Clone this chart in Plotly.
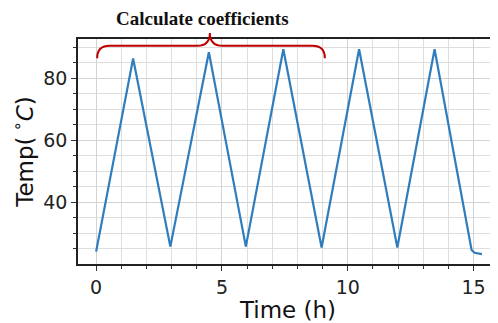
import plotly.graph_objects as go

# Data
time_h = [0.0, 1.47, 2.95, 4.48, 5.95, 7.44, 8.96, 10.45, 11.97, 13.45, 14.92, 15.04, 15.33]
temp_c = [24.1, 86.4, 25.7, 88.4, 25.7, 89.4, 25.4, 89.4, 25.4, 89.4, 24.6, 23.7, 23.3]

x_ticks = [0, 5, 10, 15]
y_ticks = [40, 60, 80]
x_range = [-0.72, 15.97]
y_range = [20.1, 92.7]

bracket_x = [0.04, 4.52, 9.09]   # left end, cusp, right end (hours)
annotation_text = "Calculate coefficients"

line_color = "#2f7dbd"
red = "#c00000"
font = "DejaVu Sans"

fig = go.Figure()
fig.add_trace(go.Scatter(x=time_h, y=temp_c, mode="lines",
                         line=dict(color=line_color, width=2.2), showlegend=False))

# Curly bracket (x in data, y in paper)
y_end, y_h, y_top = 0.915, 0.970, 1.027
x0, xc, x1 = bracket_x
r = 0.5
path = (f"M {x0},{y_end} Q {x0},{y_h} {x0+r},{y_h} "
        f"L {xc-r},{y_h} Q {xc},{y_h} {xc},{y_top} "
        f"Q {xc},{y_h} {xc+r},{y_h} "
        f"L {x1-r},{y_h} Q {x1},{y_h} {x1},{y_end}")
fig.add_shape(type="path", path=path, xref="x", yref="paper",
              line=dict(color=red, width=2))

fig.add_annotation(x=xc - 0.3, y=1.0, xref="x", yref="paper", yanchor="middle", yshift=21,
                   text=f"<b>{annotation_text}</b>", showarrow=False,
                   font=dict(family="Liberation Serif", size=19, color="#111111"))

grid = "#d3d3d3"
fig.update_xaxes(range=x_range, tickvals=x_ticks, ticks="outside", ticklen=5, tickwidth=1.2,
                 tickcolor="#333", showline=True, linecolor="#222", linewidth=1.5, mirror=True,
                 showgrid=True, gridcolor=grid, gridwidth=1, zeroline=False, automargin=False,
                 minor=dict(dtick=1, tick0=0, ticks="outside", ticklen=3, tickcolor="#333",
                            showgrid=True, gridcolor="#dedede", gridwidth=1),
                 tickfont=dict(family=font, size=19, color="#222"),
                 title=dict(text="Time (h)", font=dict(family=font, size=23, color="#111"), standoff=3))
fig.update_yaxes(range=y_range, tickvals=y_ticks, ticks="outside", ticklen=5, tickwidth=1.2,
                 tickcolor="#333", showline=True, linecolor="#222", linewidth=1.5, mirror=False,
                 showgrid=True, gridcolor=grid, gridwidth=1, zeroline=False, automargin=False,
                 minor=dict(dtick=5, tick0=0, ticks="outside", ticklen=3, tickcolor="#333",
                            showgrid=True, gridcolor="#dedede", gridwidth=1),
                 tickfont=dict(family=font, size=19, color="#222"),
                 title=dict(text="Temp(<sup> ∘</sup><i>C</i>)", font=dict(family=font, size=23, color="#111"),
                            standoff=8))

# The page body adds an 8px offset, so the figure is 8px smaller and margins compensate.
fig.update_layout(width=490, height=315, margin=dict(l=70, r=0, t=31, b=59),
                  plot_bgcolor="white", paper_bgcolor="white", showlegend=False)

fig.write_html("out.html")
